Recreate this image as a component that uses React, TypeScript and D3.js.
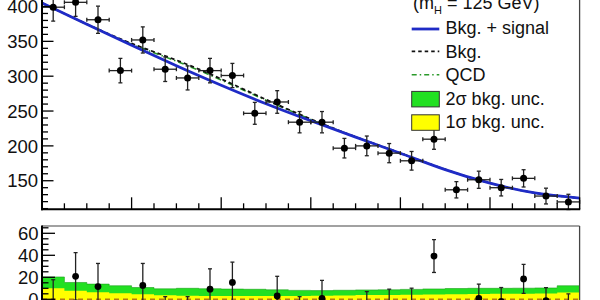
import React from "react";
import * as d3 from "d3";

// ---- data ----
const xMin = 60;
const binWidth = 5;
const nBins = 24;

// top panel: event counts per bin
const counts = [399, 406, 381, 308, 352, 310, 297.5, 308, 301, 246.7, 263, 234, 234, 196.7, 200, 189.6, 178.6, 209.6, 137, 151.4, 140, 153.4, 128, 119.6];

// fit curves sampled every 10 units of x (60..180)
const curveX = [60, 70, 80, 90, 100, 110, 120, 130, 140, 150, 160, 170, 180];
const fitSignal = [405, 374.5, 344.5, 315, 287, 260.5, 236, 212.5, 189.5, 166, 146.5, 132.5, 125];
const fitBkg = [405, 374.8, 347, 323, 296, 266.5, 238.5, 213, 189.7, 166.2, 146.6, 132.6, 125.1];
const fitQCD = [405, 374.6, 346, 321.5, 294.5, 265.5, 238, 212.8, 189.6, 166.1, 146.5, 132.5, 125];

// bottom panel: residuals and their errors
const residuals = [-3.2, 20.9, 11.6, -30, 12.6, -16.6, -16, 9.2, 15.3, -28, 3.0, -14, 0.9, -25, -8.2, -5.6, -4.2, 39.3, -30, 0.9, -1.9, 18.5, -1.3, -6.8];
const residualErr = [21, 21.6, 21, 19, 20, 19, 18.4, 18.5, 18.5, 16.8, 17.9, 16.4, 16.3, 15, 15.2, 14.8, 14.3, 14.9, 12.5, 12.9, 12.6, 13.2, 12, 11.7];

// uncertainty bands (half widths) per bin
const band2s = [20.3, 15.3, 13.8, 12.3, 10.7, 9.5, 10.0, 9.6, 9.3, 9.1, 8.6, 8.1, 7.9, 8.2, 8.5, 8.6, 9.0, 9.4, 9.8, 10.0, 10.0, 10.1, 10.3, 12.3];
const band1s = [10.1, 7.7, 6.5, 5.5, 4.6, 3.7, 3.2, 3.0, 3.0, 3.0, 3.0, 3.0, 3.2, 3.5, 3.8, 4.0, 4.2, 4.4, 4.7, 4.9, 5.0, 5.0, 5.2, 6.1];

const topTicksMajor = [150, 200, 250, 300, 350, 400];
const botTicksMajor = [0, 20, 40, 60];

const legendEntries = ["Bkg. + signal", "Bkg.", "QCD", "2\u03c3 bkg. unc.", "1\u03c3 bkg. unc."];

const FONT = "'Liberation Sans', Arial, Helvetica, sans-serif";
const BLUE = "#1f2bc6";
const GREEN = "#22e022";
const YELLOW = "#ffff00";

export default function App() {
  const x = d3.scaleLinear().domain([60, 180]).range([42, 579.6]);
  const yTop = d3.scaleLinear().domain([109, 400]).range([209.3, 6.5]);
  const yBot = d3.scaleLinear().domain([0, 60]).range([299.3, 233.3]);

  const edges = d3.range(nBins + 1).map((i) => xMin + i * binWidth);
  const centers = d3.range(nBins).map((i) => xMin + (i + 0.5) * binWidth);

  const line = (vals: number[]) =>
    d3
      .line<number>()
      .x((_, i) => x(curveX[i]))
      .y((v) => yTop(v))
      .curve(d3.curveNatural)(vals) as string;

  const bandArea = (half: number[]) => {
    const vals = [...half, half[half.length - 1]];
    return d3
      .area<number>()
      .x((_, i) => x(edges[i]))
      .y0((v) => yBot(-v))
      .y1((v) => yBot(v))
      .curve(d3.curveStepAfter)(vals) as string;
  };

  const xMinorTicks = d3.range(60, 181, 5);
  const topMinor = d3.range(110, 401, 10);
  const botMinor = d3.range(0, 66, 5);

  const left = x(60);
  const right = x(180);
  const topBottom = yTop(109);
  const botTop = 226;

  const legX0 = 411.7;
  const legX1 = 439.3;
  const legText = 445.5;
  const rowC = (k: number) => 28 + 23.4 * k;

  return (
    <svg
      width={600}
      height={300}
      style={{ position: "absolute", left: 0, top: 0, background: "#fff" }}
      fontFamily={FONT}
    >
      <rect x={0} y={0} width={600} height={300} fill="#fff" />
      <defs>
        <clipPath id="topClip">
          <rect x={left} y={-50} width={right - left} height={topBottom + 50} />
        </clipPath>
        <clipPath id="botClip">
          <rect x={left} y={botTop} width={right - left} height={100} />
        </clipPath>
      </defs>

      {/* ---------- TOP PANEL ---------- */}
      <g clipPath="url(#topClip)">
        <path d={line(fitQCD)} fill="none" stroke="#2a9a2a" strokeWidth={1.6} strokeDasharray="6,3,1.5,3" />
        <path d={line(fitBkg)} fill="none" stroke="#111" strokeWidth={1.8} strokeDasharray="4,3" />
        <path d={line(fitSignal)} fill="none" stroke={BLUE} strokeWidth={2.8} />
      </g>

      {/* data points */}
      <g stroke="#222" strokeWidth={1.3}>
        {counts.map((c, i) => {
          const cx = x(centers[i]);
          const cy = yTop(c);
          const e = Math.sqrt(c);
          const y1 = yTop(c + e);
          const y2 = yTop(c - e);
          const xl = x(edges[i]);
          const xr = x(edges[i + 1]);
          return (
            <g key={i}>
              <line x1={cx} x2={cx} y1={y1} y2={y2} />
              <line x1={cx - 2} x2={cx + 2} y1={y1} y2={y1} />
              <line x1={cx - 2} x2={cx + 2} y1={y2} y2={y2} />
              <line x1={xl} x2={xr} y1={cy} y2={cy} />
              <line x1={xl} x2={xl} y1={cy - 2} y2={cy + 2} />
              <line x1={xr} x2={xr} y1={cy - 2} y2={cy + 2} />
              <circle cx={cx} cy={cy} r={3.5} fill="#000" stroke="none" />
            </g>
          );
        })}
      </g>

      {/* top frame */}
      <line x1={right} x2={right} y1={-5} y2={topBottom} stroke="#444" strokeWidth={1.3} />
      <line x1={left} x2={left} y1={-5} y2={topBottom + 1} stroke="#000" strokeWidth={2} />
      <line x1={left - 1} x2={right + 0.6} y1={topBottom} y2={topBottom} stroke="#000" strokeWidth={2} />

      {/* top y ticks */}
      <g stroke="#000" strokeWidth={1.3}>
        {topMinor.map((v) => {
          const major = v % 50 === 0;
          return <line key={v} x1={left} x2={left + (major ? 11.5 : 6)} y1={yTop(v)} y2={yTop(v)} />;
        })}
        {xMinorTicks.map((v) => {
          const major = (v - 60) % 20 === 0;
          return <line key={v} x1={x(v)} x2={x(v)} y1={topBottom} y2={topBottom - (major ? 12 : 6)} />;
        })}
      </g>
      <g fontSize={18.5} textAnchor="end" fill="#111">
        {topTicksMajor.map((v) => (
          <text key={v} x={38} y={yTop(v)} dy="0.36em">
            {v}
          </text>
        ))}
      </g>

      {/* legend */}
      <g fontSize={18} fill="#111">
        <text x={413} y={9}>
          (m
          <tspan fontSize={11} dy={5}>H</tspan>
          <tspan dy={-5}> = 125 GeV)</tspan>
        </text>
        <line x1={legX0} x2={legX1} y1={rowC(0) + 1} y2={rowC(0) + 1} stroke={BLUE} strokeWidth={2.8} />
        <line x1={legX0} x2={legX1} y1={rowC(1)} y2={rowC(1)} stroke="#111" strokeWidth={1.6} strokeDasharray="3.5,3" />
        <line x1={legX0} x2={legX1} y1={rowC(2)} y2={rowC(2)} stroke="#2a9a2a" strokeWidth={1.6} strokeDasharray="5,3,1.5,3" />
        <rect x={legX0} y={rowC(3) - 6.8} width={legX1 - legX0} height={15.5} fill={GREEN} stroke="#333" strokeWidth={1} />
        <rect x={legX0} y={rowC(4) - 6.8} width={legX1 - legX0} height={15.5} fill={YELLOW} stroke="#333" strokeWidth={1} />
        {legendEntries.map((t, k) => (
          <text key={t} x={legText} y={rowC(k)} dy="0.36em">
            {t}
          </text>
        ))}
      </g>

      {/* ---------- BOTTOM PANEL ---------- */}
      <g clipPath="url(#botClip)">
        <path d={bandArea(band2s)} fill={GREEN} stroke="#1aa01a" strokeWidth={0.6} />
        <path d={bandArea(band1s)} fill={YELLOW} stroke="none" />
        <line x1={left} x2={right} y1={yBot(0)} y2={yBot(0)} stroke="#b07a10" strokeWidth={1.4} strokeDasharray="5,4" />
        <g stroke="#222" strokeWidth={1.3}>
          {residuals.map((r, i) => {
            const cx = x(centers[i]);
            const e = residualErr[i];
            const y1 = yBot(r + e);
            const y2 = yBot(r - e);
            return (
              <g key={i}>
                <line x1={cx} x2={cx} y1={y1} y2={y2} />
                <line x1={cx - 2} x2={cx + 2} y1={y1} y2={y1} />
                <line x1={cx - 2} x2={cx + 2} y1={y2} y2={y2} />
                <circle cx={cx} cy={yBot(r)} r={3.4} fill="#000" stroke="none" />
              </g>
            );
          })}
        </g>
      </g>

      {/* bottom frame */}
      <line x1={left} x2={right} y1={botTop} y2={botTop} stroke="#444" strokeWidth={1.1} />
      <line x1={right} x2={right} y1={botTop} y2={305} stroke="#444" strokeWidth={1.3} />
      <line x1={left} x2={left} y1={botTop - 0.5} y2={305} stroke="#000" strokeWidth={2} />
      <g stroke="#000" strokeWidth={1.3}>
        {botMinor.map((v) => {
          const major = v % 20 === 0;
          return <line key={v} x1={left} x2={left + (major ? 13 : 6.5)} y1={yBot(v)} y2={yBot(v)} />;
        })}
      </g>
      <g fontSize={18.5} textAnchor="end" fill="#111">
        {botTicksMajor.map((v) => (
          <text key={v} x={38.5} y={yBot(v)} dy="0.36em">
            {v}
          </text>
        ))}
      </g>
    </svg>
  );
}
